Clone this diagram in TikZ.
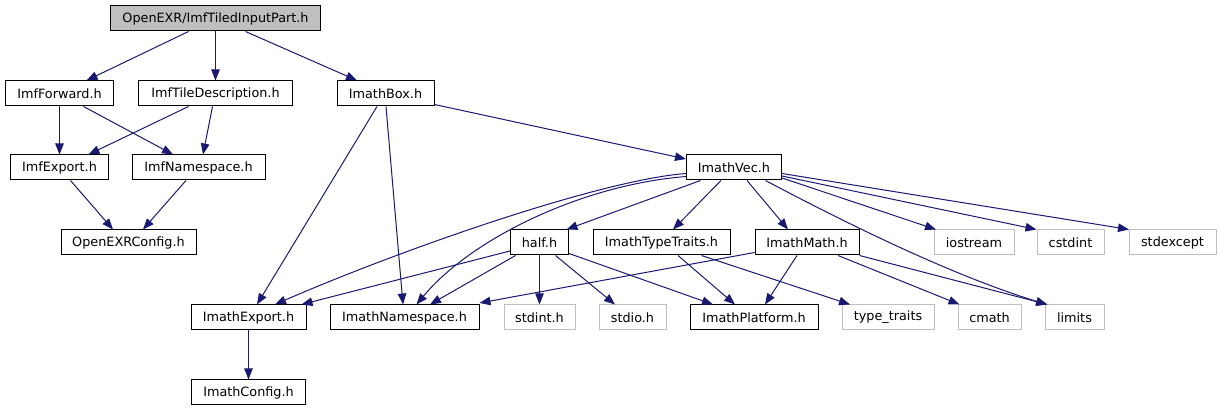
\documentclass[tikz,border=0pt]{standalone}
\usepackage{fontspec}
\setmainfont{DejaVu Sans}
\usetikzlibrary{arrows.meta}
\definecolor{edgeblue}{HTML}{191970}
\definecolor{sysgray}{HTML}{BFBFBF}
\begin{document}
\begin{tikzpicture}[x=1pt,y=-1pt,
  every node/.style={font=\fontsize{12.8}{14}\selectfont, inner sep=0pt, minimum height=25pt, anchor=center},
  hdr/.style={draw=black, line width=1pt, fill=white},
  sys/.style={draw=sysgray, line width=1pt, fill=white},
  root/.style={draw=black, line width=1pt, fill=sysgray},
  edge/.style={draw=edgeblue, line width=1pt, -{Triangle[length=11pt,width=8.5pt]}}]
\useasboundingbox (0,0) rectangle (1221,411);
% row 0
\node[root, minimum width=210pt] (top) at (215.5,18.5) {OpenEXR/ImfTiledInputPart.h};
% row 1
\node[hdr, minimum width=108pt] (fwd) at (59.5,93.5) {ImfForward.h};
\node[hdr, minimum width=154pt] (tile) at (215.5,93.5) {ImfTileDescription.h};
\node[hdr, minimum width=97pt] (box) at (385.5,93.5) {ImathBox.h};
% row 2
\node[hdr, minimum width=98pt] (ifexp) at (59.5,167.5) {ImfExport.h};
\node[hdr, minimum width=133pt] (ifns) at (198.5,167.5) {ImfNamespace.h};
\node[hdr, minimum width=95pt] (vec) at (734,167.5) {ImathVec.h};
% row 3
\node[hdr, minimum width=135pt] (oecfg) at (128.5,242.5) {OpenEXRConfig.h};
\node[hdr, minimum width=58pt] (half) at (539.5,242.5) {half.h};
\node[hdr, minimum width=137pt] (tt) at (661.5,242.5) {ImathTypeTraits.h};
\node[hdr, minimum width=104pt] (math) at (807,242.5) {ImathMath.h};
\node[sys, minimum width=80pt] (iostream) at (974,242.5) {iostream};
\node[sys, minimum width=67pt] (cstdint) at (1070.5,242.5) {cstdint};
\node[sys, minimum width=87pt] (stdexcept) at (1172.5,242.5) {stdexcept};
% row 4
\node[hdr, minimum width=115pt] (imexp) at (248.5,317.5) {ImathExport.h};
\node[hdr, minimum width=149pt] (imns) at (404.5,317.5) {ImathNamespace.h};
\node[sys, minimum width=71pt] (stdint) at (539.5,317.5) {stdint.h};
\node[sys, minimum width=67pt] (stdio) at (632.5,317.5) {stdio.h};
\node[hdr, minimum width=128pt] (plat) at (754,317.5) {ImathPlatform.h};
\node[sys, minimum width=92pt] (ttr) at (888,317.5) {type\_traits};
\node[sys, minimum width=63pt] (cmath) at (989.5,317.5) {cmath};
\node[sys, minimum width=59pt] (limits) at (1074.5,317.5) {limits};
% row 5
\node[hdr, minimum width=114pt] (imcfg) at (248.5,392.5) {ImathConfig.h};

% edges
\draw[edge] ([xshift=-27pt]top.south) -- ([xshift=27pt]fwd.north);
\draw[edge] (top.south) -- (tile.north);
\draw[edge] ([xshift=30pt]top.south) -- ([xshift=-28.5pt]box.north);
\draw[edge] (fwd.south) -- (ifexp.north);
\draw[edge] ([xshift=24pt]fwd.south) -- ([xshift=-25.5pt]ifns.north);
\draw[edge] ([xshift=-27pt]tile.south) -- ([xshift=29pt]ifexp.north);
\draw[edge] ([xshift=-3pt]tile.south) -- ([xshift=4.5pt]ifns.north);
\draw[edge] ([xshift=11pt]ifexp.south) -- ([xshift=-15.5pt]oecfg.north);
\draw[edge] ([xshift=-12.5pt]ifns.south) -- ([xshift=14.5pt]oecfg.north);
\draw[edge] ([xshift=-8.5pt]box.south) -- ([xshift=8.5pt]imexp.north);
\draw[edge] ([xshift=0.5pt]box.south) -- ([xshift=-1.5pt]imns.north);
\draw[edge] ([yshift=-11pt]box.east) -- ([yshift=8.5pt]vec.west);
\draw[edge] (imexp.south) -- (imcfg.north);
\draw[edge] ([yshift=-6pt]vec.west) .. controls (600,180) and (400,250) .. ([xshift=26.5pt]imexp.north);
\draw[edge] ([yshift=-9pt]vec.west) .. controls (580,185) and (470,240) .. ([xshift=12pt]imns.north);
\draw[edge] ([xshift=-33.5pt]vec.south) -- ([xshift=27pt]half.north);
\draw[edge] ([xshift=-13pt]vec.south) -- ([xshift=11.5pt]tt.north);
\draw[edge] ([xshift=13pt]vec.south) -- ([xshift=-19pt]math.north);
\draw[edge] ([xshift=31.5pt]vec.south) .. controls (840,220) and (950,275) .. ([xshift=-27.5pt]limits.north);
\draw[edge] ([yshift=-10.5pt]vec.east) -- ([xshift=-38pt]iostream.north);
\draw[edge] ([yshift=-8.5pt]vec.east) -- ([xshift=-34pt]cstdint.north);
\draw[edge] ([yshift=-6pt]vec.east) -- ([xshift=-43.5pt]stdexcept.north);
\draw[edge] ([yshift=-8.5pt]half.west) -- ([xshift=53pt]imexp.north);
\draw[edge] ([xshift=-24pt]half.south) -- ([xshift=25.5pt]imns.north);
\draw[edge] (half.south) -- (stdint.north);
\draw[edge] ([xshift=16pt]half.south) -- ([xshift=-17.5pt]stdio.north);
\draw[edge] ([yshift=2pt]half.south east) -- ([xshift=-41pt]plat.north);
\draw[edge] ([xshift=16.5pt]tt.south) -- ([xshift=-19pt]plat.north);
\draw[edge] ([xshift=40pt]tt.south) -- ([xshift=-38pt]ttr.north);
\draw[edge] ([yshift=-10pt]math.west) -- ([yshift=1.5pt]imns.north east);
\draw[edge] ([xshift=-10pt]math.south) -- ([xshift=11pt]plat.north);
\draw[edge] ([xshift=31pt]math.south) -- ([xshift=-30pt]cmath.north);
\draw[edge] (math.south east) -- ([xshift=-27pt]limits.north);
\end{tikzpicture}
\end{document}
